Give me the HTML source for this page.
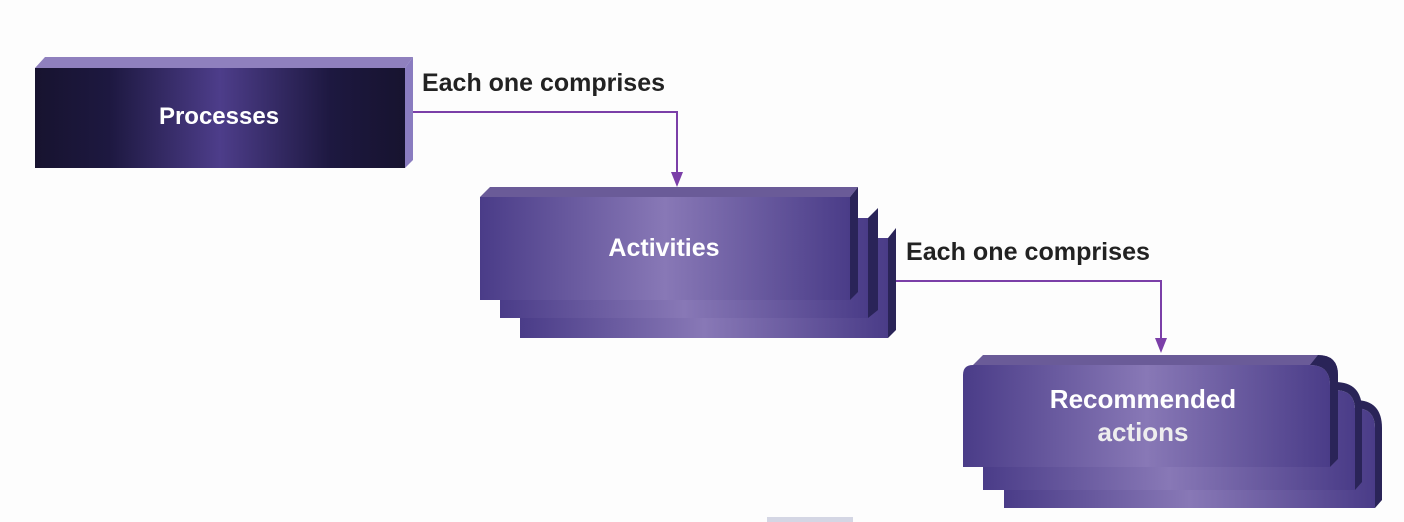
<!DOCTYPE html>
<html><head><meta charset="utf-8"><style>
html,body{margin:0;padding:0;background:#fdfdfd;width:1404px;height:522px;overflow:hidden}
text{font-family:"Liberation Sans",sans-serif;font-weight:bold}
</style></head><body>
<svg width="1404" height="522" viewBox="0 0 1404 522" xmlns="http://www.w3.org/2000/svg">
<defs>
<linearGradient id="dk" x1="0" x2="1" y1="0" y2="0">
<stop offset="0" stop-color="#17132f"/><stop offset="0.2" stop-color="#1d1840"/>
<stop offset="0.5" stop-color="#4d3d8a"/><stop offset="0.8" stop-color="#1d1840"/><stop offset="1" stop-color="#17132f"/>
</linearGradient>
<linearGradient id="pu" x1="0" x2="1" y1="0" y2="0">
<stop offset="0" stop-color="#4a3c88"/><stop offset="0.5" stop-color="#8878b6"/><stop offset="1" stop-color="#4a3c88"/>
</linearGradient>
</defs>
<!-- Processes -->
<polygon points="35,68 45,57 413,57 405,68" fill="#8f80be"/>
<polygon points="405,68 413,57 413,160 405,168" fill="#8a7cc0"/>
<rect x="35" y="68" width="370" height="100" fill="url(#dk)"/>
<text x="219" y="124" fill="#fff" font-size="24" text-anchor="middle">Processes</text>
<!-- Activities stack -->
<rect x="520" y="238" width="368" height="100" fill="url(#pu)"/>
<polygon points="888,238 896,228 896,330 888,338" fill="#2a2458"/>
<rect x="500" y="218" width="368" height="100" fill="url(#pu)"/>
<polygon points="868,218 878,208 878,310 868,318" fill="#2a2458"/>
<polygon points="480,197 490,187 858,187 850,197" fill="#6a5b98"/>
<polygon points="850,197 858,187 858,292 850,300" fill="#2a2458"/>
<rect x="480" y="197" width="370" height="103" fill="url(#pu)"/>
<text x="664" y="256" fill="#fff" font-size="25" text-anchor="middle">Activities</text>
<!-- Recommended stack -->
<path d="M1004,408 H1355 Q1375,408 1375,428 V508 H1004 Z" fill="url(#pu)"/>
<path d="M1355,400 Q1382,400 1382,428 V500 L1375,508 V428 Q1375,408 1355,408 Z" fill="#2a2458"/>
<path d="M983,390 H1335 Q1355,390 1355,410 V490 H983 Z" fill="url(#pu)"/>
<path d="M1335,382 Q1362,382 1362,410 V482 L1355,490 V410 Q1355,390 1335,390 Z" fill="#2a2458"/>
<path d="M963,375 Q963,365 973,365 H1310 Q1330,365 1330,385 V467 H963 Z" fill="url(#pu)"/>
<path d="M973,365 L983,355 H1318 Q1338,355 1338,375 V459 L1330,467 V385 Q1330,365 1310,365 Z" fill="#6a5b98"/>
<path d="M1310,365 L1318,355 Q1338,355 1338,375 V459 L1330,467 V385 Q1330,365 1310,365 Z" fill="#2a2458"/>
<text x="1143" y="408" fill="#fff" font-size="26" text-anchor="middle">Recommended</text>
<text x="1143" y="441" fill="#eee" font-size="26" text-anchor="middle">actions</text>
<!-- connectors -->
<polyline points="413,112 677,112 677,176" fill="none" stroke="#7b3fa8" stroke-width="2"/>
<polygon points="671,172 683,172 677,187" fill="#7b3fa8"/>
<polyline points="896,281 1161,281 1161,342" fill="none" stroke="#7b3fa8" stroke-width="2"/>
<polygon points="1155,338 1167,338 1161,353" fill="#7b3fa8"/>
<text x="422" y="91" fill="#222" font-size="25" textLength="243" lengthAdjust="spacingAndGlyphs">Each one comprises</text>
<text x="906" y="260" fill="#222" font-size="25" textLength="244" lengthAdjust="spacingAndGlyphs">Each one comprises</text>
<rect x="767" y="517" width="86" height="5" fill="#d4d6e4"/>
</svg>
</body></html>
